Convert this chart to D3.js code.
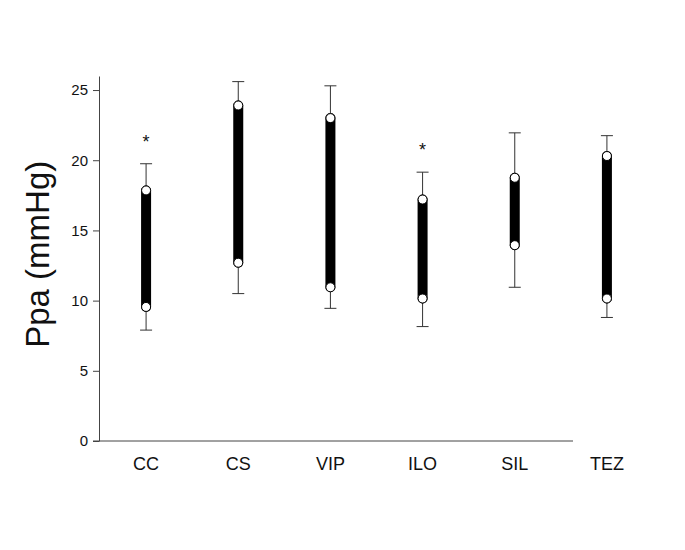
<!DOCTYPE html>
<html>
<head>
<meta charset="utf-8">
<script src="https://cdn.jsdelivr.net/npm/d3@7"></script>
<style>
  body { margin: 0; background: #fff; }
  text { font-family: "Liberation Sans", Arial, sans-serif; }
</style>
</head>
<body>
<div id="chart"></div>
<script>
var svgWidth = 685;
var svgHeight = 550;

// data
var groups = ["CC", "CS", "VIP", "ILO", "SIL", "TEZ"];
var whiskerLow = [7.9, 10.5, 9.45, 8.15, 10.95, 8.8];
var boxLow = [9.55, 12.7, 10.95, 10.15, 13.95, 10.15];
var boxHigh = [17.85, 23.9, 23.0, 17.2, 18.75, 20.3];
var whiskerHigh = [19.75, 25.6, 25.3, 19.15, 21.95, 21.75];
var starred = ["CC", "ILO"];
var yTicks = [0, 5, 10, 15, 20, 25];

var svg = d3.select("#chart")
  .append("svg")
  .attr("width", svgWidth)
  .attr("height", svgHeight);

var x = d3.scaleBand()
  .domain(groups)
  .range([100, 653]);

var y = d3.scaleLinear()
  .domain([0, 26])
  .range([441, 76]);

// y axis
var yAxis = svg.append("g")
  .attr("transform", "translate(99,0)")
  .call(d3.axisLeft(y).tickValues(yTicks).tickSize(6).tickSizeOuter(0));
yAxis.select(".domain").attr("stroke", "#444");
yAxis.selectAll(".tick line").attr("stroke", "#444");
yAxis.selectAll(".tick text")
  .attr("font-size", 15)
  .attr("fill", "#111")
  .attr("x", -11);

// x axis line (stops short of last group, as in the original)
svg.append("line")
  .attr("x1", 93).attr("x2", 573)
  .attr("y1", y(0)).attr("y2", y(0))
  .attr("stroke", "#444")
  .attr("stroke-width", 1);

svg.selectAll(".xlab")
  .data(groups)
  .enter()
  .append("text")
  .attr("class", "xlab")
  .attr("x", d => x(d) + x.bandwidth() / 2)
  .attr("y", 470)
  .attr("text-anchor", "middle")
  .attr("font-size", 18)
  .attr("fill", "#111")
  .text(d => d);

svg.append("text")
  .attr("transform", "translate(49," + y(13.3) + ") rotate(-90)")
  .attr("text-anchor", "middle")
  .attr("font-size", 33)
  .attr("fill", "#111")
  .text("Ppa (mmHg)");

var rows = groups.map(function(g, i) {
  return { g: g, wl: whiskerLow[i], bl: boxLow[i], bh: boxHigh[i], wh: whiskerHigh[i] };
});

var cx = d => x(d.g) + x.bandwidth() / 2;

var marks = svg.append("g");

// whiskers
marks.selectAll(".whisker")
  .data(rows)
  .enter()
  .append("line")
  .attr("x1", cx).attr("x2", cx)
  .attr("y1", d => y(d.wl)).attr("y2", d => y(d.wh))
  .attr("stroke", "#333")
  .attr("stroke-width", 1);

["wl", "wh"].forEach(function(k) {
  marks.selectAll(".cap-" + k)
    .data(rows)
    .enter()
    .append("line")
    .attr("x1", d => cx(d) - 6).attr("x2", d => cx(d) + 6)
    .attr("y1", d => y(d[k])).attr("y2", d => y(d[k]))
    .attr("stroke", "#333")
    .attr("stroke-width", 1);
});

// thick bar between the two points
marks.selectAll(".bar")
  .data(rows)
  .enter()
  .append("line")
  .attr("x1", cx).attr("x2", cx)
  .attr("y1", d => y(d.bl)).attr("y2", d => y(d.bh))
  .attr("stroke", "#000")
  .attr("stroke-width", 10)
  .attr("stroke-linecap", "round");

["bl", "bh"].forEach(function(k) {
  marks.selectAll(".pt-" + k)
    .data(rows)
    .enter()
    .append("circle")
    .attr("cx", cx)
    .attr("cy", d => y(d[k]))
    .attr("r", 4.5)
    .attr("fill", "#fff")
    .attr("stroke", "#000")
    .attr("stroke-width", 1);
});

// significance stars
marks.selectAll(".star")
  .data(rows.filter(d => starred.indexOf(d.g) >= 0))
  .enter()
  .append("text")
  .attr("x", cx)
  .attr("y", d => y(d.wh) - 16)
  .attr("text-anchor", "middle")
  .attr("font-size", 18)
  .attr("fill", "#111")
  .text("*");
</script>
</body>
</html>
